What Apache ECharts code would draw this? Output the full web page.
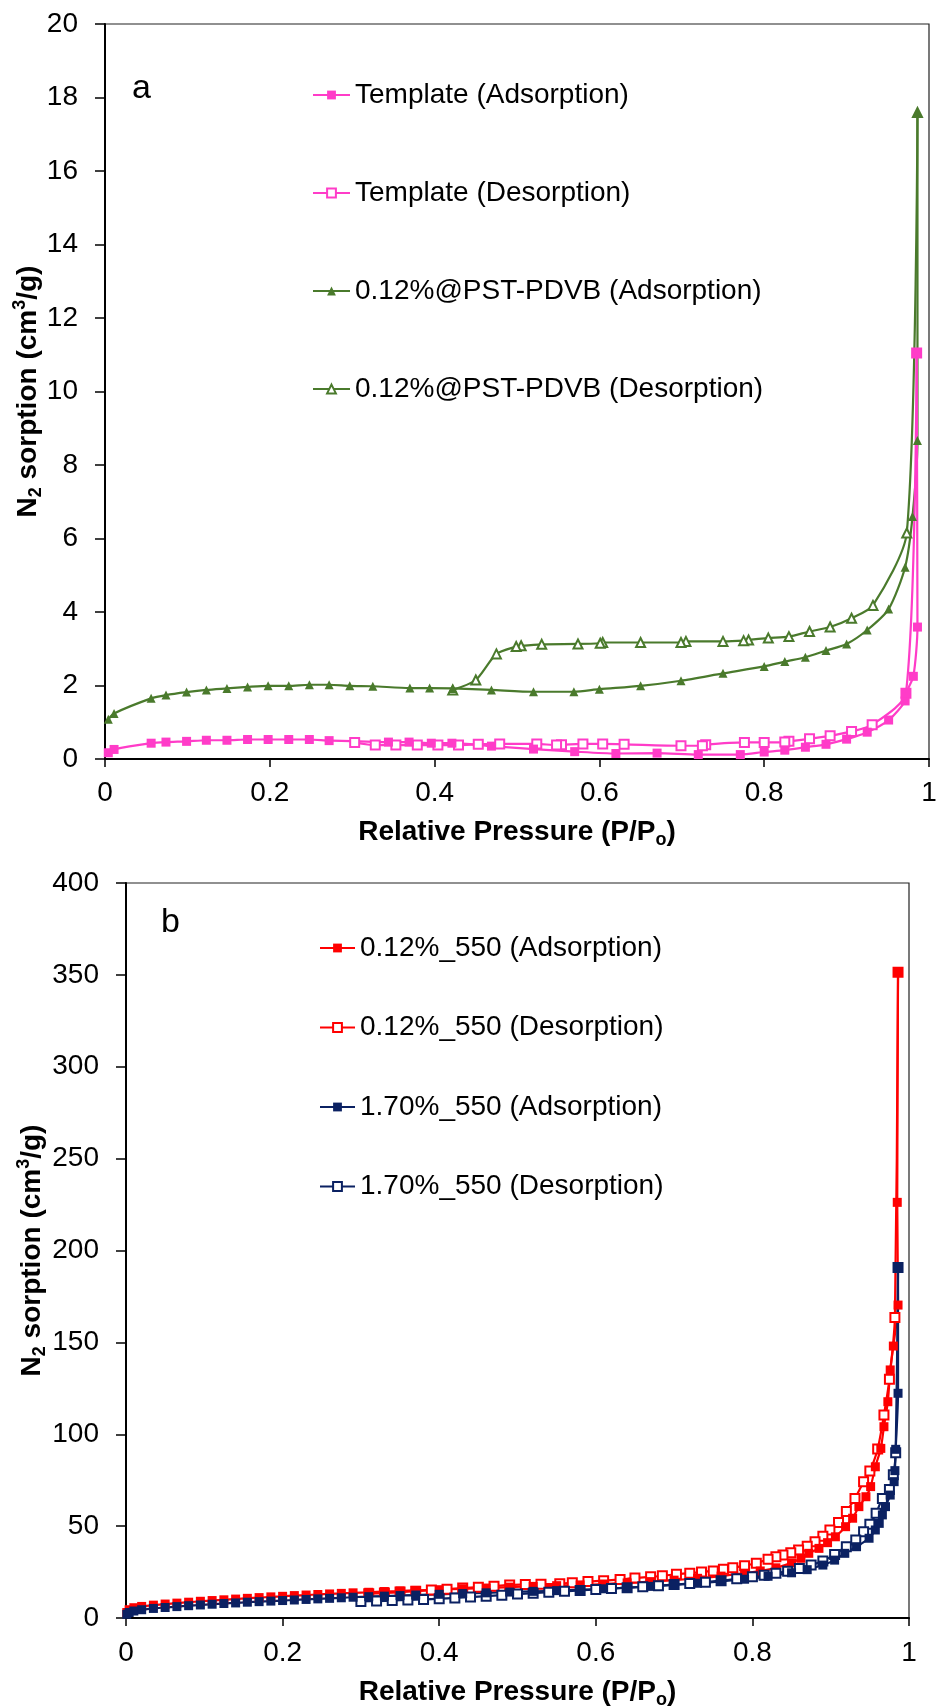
<!DOCTYPE html>
<html><head><meta charset="utf-8">
<script src="https://cdn.jsdelivr.net/npm/echarts@6/dist/echarts.min.js"></script>
<style>html,body{margin:0;padding:0;background:#fff}#c{width:937px;height:1707px}</style>
</head><body><div id="c"></div>
<script>
// ---------- Panel a data: [P/Po, N2 sorption cm3/g] ----------
const templateAds = [[0.004,0.17],[0.011,0.26],[0.056,0.43],[0.074,0.46],[0.099,0.48],[0.123,0.51],[0.148,0.51],[0.173,0.53],[0.198,0.53],[0.223,0.53],[0.248,0.53],[0.272,0.50],[0.344,0.46],[0.369,0.46],[0.396,0.43],[0.421,0.43],[0.469,0.35],[0.520,0.27],[0.570,0.20],[0.620,0.15],[0.670,0.16],[0.720,0.12],[0.771,0.12],[0.800,0.19],[0.825,0.24],[0.850,0.32],[0.875,0.40],[0.900,0.54],[0.925,0.73],[0.951,1.06],[0.971,1.58],[0.972,1.79],[0.981,2.25],[0.986,3.59],[0.985,11.05]];
const templateDes = [[0.985,11.05],[0.972,1.79],[0.931,0.93],[0.906,0.75],[0.880,0.63],[0.855,0.55],[0.830,0.48],[0.825,0.46],[0.800,0.45],[0.776,0.45],[0.729,0.39],[0.725,0.36],[0.699,0.36],[0.630,0.40],[0.604,0.41],[0.580,0.41],[0.554,0.39],[0.548,0.38],[0.524,0.41],[0.479,0.41],[0.453,0.40],[0.429,0.38],[0.404,0.38],[0.379,0.38],[0.353,0.38],[0.328,0.38],[0.303,0.45]];
const pstAds = [[0.004,1.08],[0.011,1.24],[0.056,1.65],[0.074,1.74],[0.099,1.82],[0.123,1.88],[0.148,1.92],[0.173,1.96],[0.198,1.99],[0.223,1.99],[0.248,2.02],[0.272,2.02],[0.297,1.99],[0.325,1.98],[0.370,1.93],[0.394,1.93],[0.422,1.92],[0.469,1.88],[0.520,1.83],[0.569,1.83],[0.600,1.90],[0.650,1.99],[0.699,2.13],[0.750,2.33],[0.800,2.52],[0.825,2.65],[0.850,2.77],[0.875,2.95],[0.900,3.13],[0.925,3.51],[0.951,4.08],[0.971,5.22],[0.980,6.60],[0.986,8.67],[0.986,17.59]];
const pstDes = [[0.986,17.59],[0.973,6.15],[0.932,4.18],[0.906,3.83],[0.880,3.59],[0.855,3.47],[0.830,3.33],[0.805,3.29],[0.781,3.24],[0.775,3.22],[0.750,3.20],[0.705,3.20],[0.699,3.17],[0.650,3.17],[0.604,3.17],[0.601,3.15],[0.574,3.13],[0.530,3.12],[0.505,3.08],[0.499,3.06],[0.475,2.86],[0.450,2.15],[0.422,1.88]];

// ---------- Panel b data ----------
const red550Ads = [[0.001,3.0],[0.004,4.5],[0.010,5.6],[0.020,6.3],[0.035,7.0],[0.050,7.6],[0.065,8.1],[0.080,8.6],[0.095,9.1],[0.110,9.5],[0.125,9.9],[0.140,10.3],[0.155,10.7],[0.170,11.1],[0.185,11.5],[0.200,11.8],[0.215,12.2],[0.230,12.5],[0.245,12.8],[0.260,13.1],[0.275,13.4],[0.290,13.7],[0.310,14.0],[0.330,14.4],[0.350,14.7],[0.370,15.0],[0.400,15.4],[0.430,15.9],[0.460,16.3],[0.490,16.8],[0.520,17.2],[0.550,17.6],[0.580,18.0],[0.610,18.5],[0.640,19.1],[0.670,19.8],[0.700,20.6],[0.730,21.6],[0.760,22.8],[0.790,24.4],[0.810,25.6],[0.830,27.3],[0.850,30.0],[0.862,32.5],[0.872,35.2],[0.885,37.9],[0.896,41.0],[0.906,44.2],[0.919,49.7],[0.928,54.3],[0.936,60.6],[0.945,66.0],[0.951,71.5],[0.957,82.3],[0.964,92.3],[0.968,104.1],[0.973,117.7],[0.976,135.0],[0.980,148.0],[0.986,170.3],[0.985,226.2],[0.986,351.4]];
const red550Des = [[0.986,351.4],[0.982,163.6],[0.975,130.0],[0.968,110.5],[0.960,92.0],[0.950,80.0],[0.942,74.2],[0.931,65.0],[0.920,57.9],[0.910,52.0],[0.899,47.9],[0.890,44.5],[0.880,41.5],[0.870,39.0],[0.859,37.0],[0.849,35.5],[0.839,34.3],[0.830,33.4],[0.820,32.0],[0.805,29.8],[0.790,28.5],[0.775,27.3],[0.763,26.5],[0.750,25.6],[0.735,25.0],[0.720,24.4],[0.703,23.8],[0.685,23.0],[0.670,22.4],[0.650,21.8],[0.631,21.0],[0.610,20.3],[0.590,19.8],[0.570,19.2],[0.554,18.6],[0.530,18.4],[0.510,18.2],[0.490,18.0],[0.470,17.3],[0.450,16.8],[0.430,16.3],[0.410,15.7],[0.390,15.2],[0.370,14.6],[0.350,14.1],[0.330,13.6],[0.310,13.2]];
const navy550Ads = [[0.001,2.0],[0.004,3.0],[0.010,3.8],[0.020,4.5],[0.035,5.2],[0.050,5.7],[0.065,6.2],[0.080,6.7],[0.095,7.1],[0.110,7.5],[0.125,7.9],[0.140,8.2],[0.155,8.6],[0.170,8.9],[0.185,9.2],[0.200,9.5],[0.215,9.8],[0.230,10.1],[0.245,10.4],[0.260,10.7],[0.275,11.0],[0.290,11.3],[0.310,11.6],[0.330,11.9],[0.350,12.2],[0.370,12.5],[0.400,12.9],[0.430,13.3],[0.460,13.7],[0.490,14.1],[0.520,14.5],[0.550,14.9],[0.580,15.4],[0.610,15.9],[0.640,16.5],[0.670,17.2],[0.700,18.0],[0.730,18.9],[0.760,19.9],[0.790,21.1],[0.820,22.7],[0.850,24.6],[0.870,26.3],[0.890,28.8],[0.905,31.5],[0.918,35.2],[0.933,38.8],[0.949,43.4],[0.957,47.9],[0.962,51.5],[0.966,56.1],[0.970,60.6],[0.976,66.9],[0.981,74.2],[0.982,80.2],[0.983,91.8],[0.986,122.3],[0.986,190.8]];
const navy550Des = [[0.986,190.8],[0.983,90.0],[0.980,78.0],[0.975,70.0],[0.966,65.1],[0.958,57.0],[0.950,51.0],[0.942,47.0],[0.932,42.5],[0.920,38.8],[0.905,34.5],[0.890,31.0],[0.875,28.8],[0.860,27.0],[0.845,25.5],[0.830,24.3],[0.815,23.3],[0.800,22.4],[0.780,21.3],[0.760,20.3],[0.740,19.5],[0.720,18.8],[0.700,18.2],[0.680,17.6],[0.660,17.0],[0.640,16.5],[0.620,16.0],[0.600,15.5],[0.580,15.0],[0.560,14.5],[0.540,14.0],[0.520,13.5],[0.500,13.0],[0.480,12.4],[0.460,11.9],[0.440,11.4],[0.420,10.9],[0.400,10.5],[0.380,10.1],[0.360,9.8],[0.340,9.5],[0.320,9.2],[0.300,9.0]];

// axis ranges / tick steps
const xRange = [0, 1], xStep = 0.2;
const yRangeA = [0, 20], yStepA = 2;
const yRangeB = [0, 400], yStepB = 50;

const FONT = "'Liberation Sans', Arial, sans-serif";
const PINK = '#FF3CC8', GREEN = '#4A7A2C', RED = '#FF0000', NAVY = '#0B2162';

function nameStyle() {
  return {
    color: '#000', fontSize: 28, fontWeight: 'bold', fontFamily: FONT, lineHeight: 34,
    rich: {
      sub: { color: '#000', fontSize: 18, fontWeight: 'bold', fontFamily: FONT, lineHeight: 18, verticalAlign: 'bottom' },
      sup: { color: '#000', fontSize: 18, fontWeight: 'bold', fontFamily: FONT, lineHeight: 18, verticalAlign: 'top' }
    }
  };
}
function xAxisOpt(gi, gap, margin) {
  return {
    type: 'value', gridIndex: gi, min: xRange[0], max: xRange[1], interval: xStep,
    name: 'Relative Pressure (P/P{sub|o})', nameLocation: 'middle', nameGap: gap, nameMoveOverlap: false, nameTextStyle: nameStyle(),
    axisLine: { show: true, onZero: false, lineStyle: { color: '#000', width: 2 } },
    axisTick: { show: true, inside: false, length: 8, lineStyle: { color: '#000', width: 1.5 } },
    axisLabel: { color: '#000', fontSize: 28, fontFamily: FONT, margin: margin, showMinLabel: true, showMaxLabel: true },
    splitLine: { show: false }
  };
}
function yAxisOpt(gi, range, step, gap) {
  return {
    type: 'value', gridIndex: gi, min: range[0], max: range[1], interval: step,
    name: 'N{sub|2} sorption (cm{sup|3}/g)', nameLocation: 'middle', nameGap: gap, nameMoveOverlap: false, nameTextStyle: nameStyle(),
    axisLine: { show: true, onZero: false, lineStyle: { color: '#000', width: 2 } },
    axisTick: { show: true, inside: false, length: 10, lineStyle: { color: '#000', width: 1.5 } },
    axisLabel: { color: '#000', fontSize: 28, fontFamily: FONT, margin: 27, showMinLabel: true, showMaxLabel: true },
    splitLine: { show: false }
  };
}
function ser(name, data, color, symbol, gi, size) {
  return {
    name: name, type: 'line', xAxisIndex: gi, yAxisIndex: gi, data: data,
    symbol: symbol, symbolSize: size, smooth: 0.25,
    lineStyle: { color: color, width: 2.2 },
    itemStyle: { color: color },
    emphasis: { disabled: true }, animation: false
  };
}
const legendText = { color: '#000', fontSize: 28, fontFamily: FONT, lineHeight: 30 };

const chart = echarts.init(document.getElementById('c'), null, { renderer: 'canvas', width: 937, height: 1707 });
chart.setOption({
  backgroundColor: '#fff',
  animation: false,
  grid: [
    { left: 105, top: 24, width: 824, height: 735, show: true, borderColor: '#222', borderWidth: 1.2, containLabel: false, outerBoundsMode: 'none' },
    { left: 126, top: 883, width: 783, height: 735, show: true, borderColor: '#222', borderWidth: 1.2, containLabel: false, outerBoundsMode: 'none' }
  ],
  xAxis: [xAxisOpt(0, 56, 20), xAxisOpt(1, 57, 21)],
  yAxis: [yAxisOpt(0, yRangeA, yStepA, 60), yAxisOpt(1, yRangeB, yStepB, 77)],
  legend: [
    { data: ['Template (Adsorption)', 'Template (Desorption)', '0.12%@PST-PDVB (Adsorption)', '0.12%@PST-PDVB (Desorption)'],
      orient: 'vertical', left: 307, top: 75, itemWidth: 37, itemHeight: 11, itemGap: 68, textStyle: legendText, selectedMode: false },
    { data: ['0.12%_550 (Adsorption)', '0.12%_550 (Desorption)', '1.70%_550 (Adsorption)', '1.70%_550 (Desorption)'],
      orient: 'vertical', left: 314, top: 928, itemWidth: 35, itemHeight: 11, itemGap: 49.5, textStyle: legendText, selectedMode: false }
  ],
  graphic: [
    { type: 'text', left: 132, top: 72, style: { text: 'a', fontSize: 34, fontFamily: FONT, fill: '#000' } },
    { type: 'text', left: 161, top: 906, style: { text: 'b', fontSize: 34, fontFamily: FONT, fill: '#000' } }
  ],
  series: [
    ser('0.12%@PST-PDVB (Desorption)', pstDes, GREEN, 'emptyTriangle', 0, 9),
    ser('0.12%@PST-PDVB (Adsorption)', pstAds, GREEN, 'triangle', 0, 9),
    ser('Template (Desorption)', templateDes, PINK, 'emptyRect', 0, 9),
    ser('Template (Adsorption)', templateAds, PINK, 'rect', 0, 9),
    ser('0.12%_550 (Desorption)', red550Des, RED, 'emptyRect', 1, 9),
    ser('0.12%_550 (Adsorption)', red550Ads, RED, 'rect', 1, 9),
    ser('1.70%_550 (Desorption)', navy550Des, NAVY, 'emptyRect', 1, 9),
    ser('1.70%_550 (Adsorption)', navy550Ads, NAVY, 'rect', 1, 9)
  ]
});
</script></body></html>
